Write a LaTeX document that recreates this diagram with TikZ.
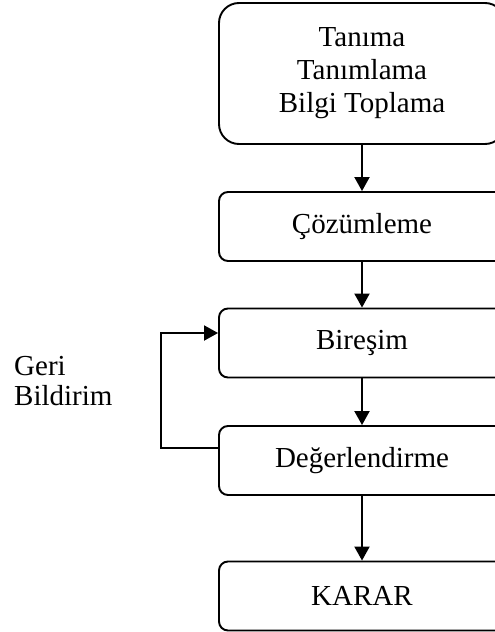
\documentclass[tikz,border=0pt]{standalone}
\usepackage{fontspec}
\setmainfont{Liberation Serif}
\usetikzlibrary{arrows.meta}
\begin{document}
\begin{tikzpicture}[x=1pt,y=-1pt,
  box/.style={draw,line width=1.9pt,minimum width=286pt,minimum height=69pt,rounded corners=9pt,
    font=\fontsize{29}{33}\selectfont,align=center,inner sep=0pt},
  arr/.style={line width=1.9pt,-{Triangle[length=14pt,width=15pt]}}]
\useasboundingbox (0,0) rectangle (495,632);
\clip (0,0) rectangle (495,632);
\node[box,minimum height=141pt,rounded corners=20pt] (b1) at (362,73.5) {Tanıma\\Tanımlama\\Bilgi Toplama};
\node[box] (b2) at (362,226.5) {Çözümleme};
\node[box] (b3) at (362,343) {Bireşim};
\node[box] (b4) at (362,460.5) {Değerlendirme};
\node[box] (b5) at (362,596) {KARAR};
\draw[arr] (b1) -- (b2);
\draw[arr] (b2) -- (b3);
\draw[arr] (b3) -- (b4);
\draw[arr] (b4) -- (b5);
\draw[arr] ([yshift=12.5pt]b4.west) -- ++(-57,0) |- ([yshift=10pt]b3.west);
\node[anchor=base west,align=left,inner sep=0pt,font=\fontsize{29}{30}\selectfont] (fb) at (14,405) {Geri\\Bildirim};
\end{tikzpicture}
\end{document}
